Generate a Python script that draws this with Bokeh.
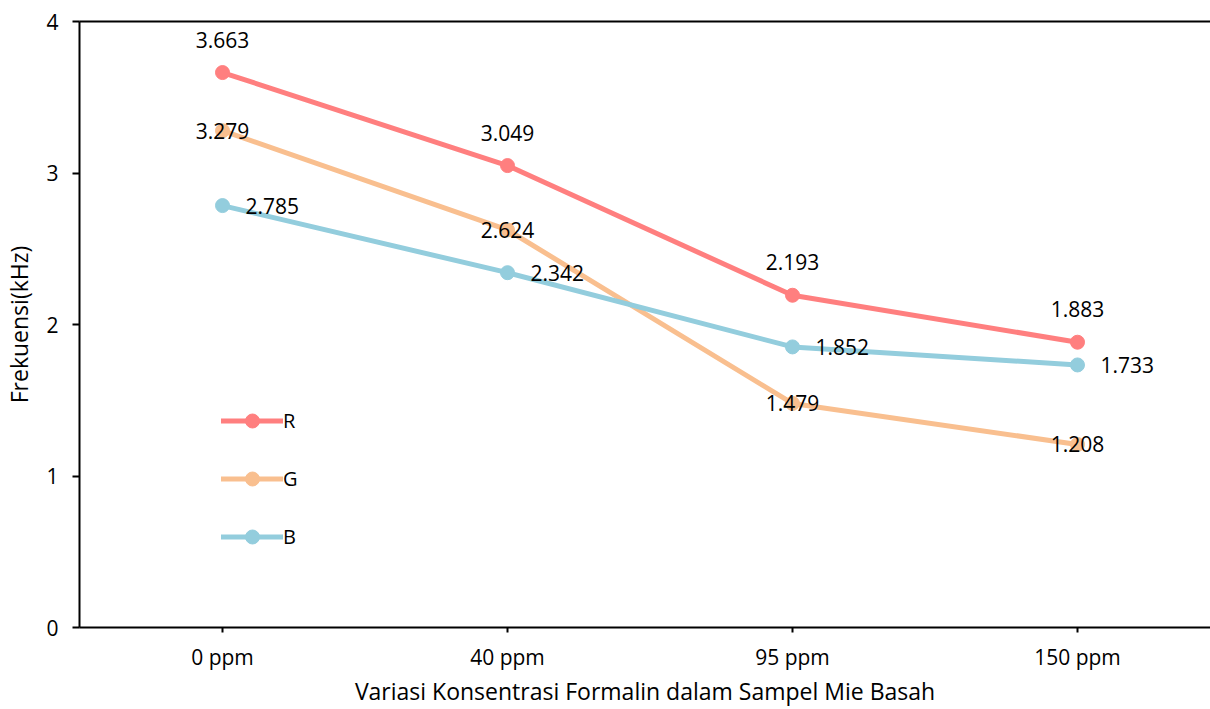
from bokeh.plotting import figure
from bokeh.models import (ColumnDataSource, FixedTicker, LinearAxis, Legend, LegendItem, Range1d)
from bokeh.core.properties import value
from bokeh.embed import file_html
from bokeh.resources import INLINE

categories = ["0 ppm", "40 ppm", "95 ppm", "150 ppm"]
r_values = [3.663, 3.049, 2.193, 1.883]
g_values = [3.279, 2.624, 1.479, 1.208]
b_values = [2.785, 2.342, 1.852, 1.733]
y_ticks = [0, 1, 2, 3, 4]

FONT = "Open Sans"
R_COL = "#FF7F7F"
G_COL = "#F9BF8F"
B_COL = "#93CDDD"

xs = list(range(len(categories)))

p = figure(width=1210, height=709, output_backend="svg", toolbar_location=None,
           x_range=Range1d(-0.5018, 3.4667), y_range=Range1d(0, 4),
           min_border_left=79, min_border_top=21, min_border_right=0, min_border_bottom=82)
p.xgrid.visible = False
p.ygrid.visible = False
p.outline_line_color = None
p.background_fill_color = "white"
p.border_fill_color = "white"

# axes
p.xaxis.ticker = FixedTicker(ticks=xs)
p.xaxis.major_label_overrides = {i: c for i, c in enumerate(categories)}
p.yaxis.ticker = FixedTicker(ticks=y_ticks)
for ax in (p.xaxis[0], p.yaxis[0]):
    ax.axis_line_width = 2
    ax.axis_line_color = "black"
    ax.major_tick_line_width = 2
    ax.major_tick_line_color = "black"
    ax.major_tick_in = 0
    ax.minor_tick_line_color = None
    ax.major_label_text_font = FONT
    ax.major_label_text_font_size = "21px"
    ax.major_label_text_color = "black"
    ax.axis_label_text_font = FONT
    ax.axis_label_text_font_size = "23px"
    ax.axis_label_text_font_style = "normal"
    ax.axis_label_text_color = "black"
p.xaxis.major_tick_out = 5
p.yaxis.major_tick_out = 7
p.xaxis.major_label_standoff = 10
p.yaxis.major_label_standoff = 14
p.xaxis.axis_label = "Variasi Konsentrasi Formalin dalam Sampel Mie Basah"
p.yaxis.axis_label = "Frekuensi(kHz)"
p.xaxis.axis_label_standoff = 1
p.yaxis.axis_label_standoff = 8

top = LinearAxis(ticker=FixedTicker(ticks=[]), major_tick_line_color=None,
                 minor_tick_line_color=None, major_label_text_font_size="0px",
                 axis_line_width=2, axis_line_color="black")
p.add_layout(top, "above")

src = ColumnDataSource(dict(x=xs, r=r_values, g=g_values, b=b_values,
                            rl=[f"{v:.3f}" for v in r_values],
                            gl=[f"{v:.3f}" for v in g_values],
                            bl=[f"{v:.3f}" for v in b_values]))

renderers = {}
for key, col in (("r", R_COL), ("g", G_COL), ("b", B_COL)):
    ln = p.line("x", key, source=src, line_color=col, line_width=5, line_cap="round")
    sc = p.scatter("x", key, source=src, size=14, fill_color=col, line_color=col)
    renderers[key] = [ln, sc]

# data labels
p.text("x", "r", text="rl", source=src, text_font=value(FONT), text_font_size="21px",
       text_align="center", text_baseline="middle", y_offset=-33, text_color="black")
p.text("x", "g", text="gl", source=src, text_font=value(FONT), text_font_size="21px",
       text_align="center", text_baseline="middle", y_offset=0, text_color="black")
p.text("x", "b", text="bl", source=src, text_font=value(FONT), text_font_size="21px",
       text_align="left", text_baseline="middle", x_offset=23, text_color="black")

legend = Legend(items=[LegendItem(label="R", renderers=renderers["r"]),
                       LegendItem(label="G", renderers=renderers["g"]),
                       LegendItem(label="B", renderers=renderers["b"])],
                location=(142, 73), orientation="vertical",
                glyph_width=62, glyph_height=35, spacing=23, label_standoff=0,
                padding=0, margin=0, border_line_color=None, background_fill_alpha=0,
                label_text_font=FONT, label_text_font_size="20px", label_text_color="black")
p.add_layout(legend, "center")

open("out.html", "w").write(file_html(p, INLINE))
